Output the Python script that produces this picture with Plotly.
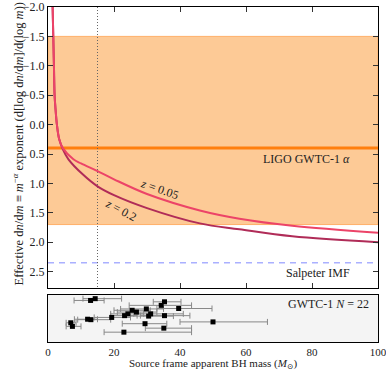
import plotly.graph_objects as go

# ---- data ----
mass_z005 = [1.4, 1.6, 1.8, 2.0, 2.3, 2.7, 3.4, 4.5, 7.7, 10, 15, 20, 30, 46, 58, 74, 100]
alpha_z005 = [-2.0, -1.5, -1.0, -0.5, -0.25, 0.0, 0.25, 0.4, 0.59, 0.66, 0.79, 0.93, 1.18, 1.46, 1.6, 1.72, 1.84]
mass_z02 = [1.4, 1.6, 1.8, 2.0, 2.3, 2.7, 3.4, 4.5, 6.2, 10.6, 15, 20, 30, 46, 58, 74, 100]
alpha_z02 = [-2.0, -1.5, -1.0, -0.5, -0.25, 0.0, 0.25, 0.42, 0.59, 0.85, 1.05, 1.2, 1.42, 1.68, 1.78, 1.9, 2.0]

ligo_alpha = 0.4
ligo_alpha_lo = -1.5
ligo_alpha_hi = 1.7
salpeter_alpha = 2.35
mass_cut = 15

bh_mass = [12.9, 14.3, 35.3, 34.3, 39.6, 25.5, 29.8, 26.8, 24.2, 23.2, 31.1, 30.5, 35.3, 19.3, 12.0, 13.0, 6.9, 7.4, 50.0, 29.4, 35.1, 23.0]
bh_lo = [7.9, 10.6, 31.9, 24.6, 33.0, 20.0, 22.0, 21.0, 19.0, 19.0, 26.0, 25.0, 28.0, 14.0, 8.0, 9.0, 5.5, 5.5, 40.0, 22.5, 29.5, 17.0]
bh_hi = [17.0, 22.3, 40.3, 43.5, 49.7, 31.0, 35.0, 33.0, 29.0, 27.0, 41.0, 38.0, 43.0, 25.0, 15.0, 19.0, 8.5, 10.0, 66.5, 36.0, 43.5, 43.5]
bh_row = [0.93, 0.97, 0.90, 0.82, 0.75, 0.71, 0.74, 0.67, 0.63, 0.59, 0.63, 0.58, 0.59, 0.55, 0.51, 0.50, 0.43, 0.35, 0.45, 0.41, 0.31, 0.22]

xticks = [0, 20, 40, 60, 80, 100]
yticks = [-2.0, -1.5, -1.0, -0.5, 0.0, 0.5, 1.0, 1.5, 2.0, 2.5]
ytext = [("\u2212%.1f" % abs(v)) if v < 0 else "%.1f" % v for v in yticks]

FONT = "Liberation Serif, DejaVu Serif, serif"
TXT = "#222222"
fig = go.Figure()

# main panel
fig.add_trace(go.Scatter(x=[0, 100], y=[ligo_alpha, ligo_alpha], mode="lines",
                         line=dict(color="#ff7f0e", width=3), xaxis="x", yaxis="y", showlegend=False))
fig.add_trace(go.Scatter(x=[0, 100], y=[salpeter_alpha, salpeter_alpha], mode="lines",
                         line=dict(color="#aab0ff", width=1.5, dash="6px,5px"), xaxis="x", yaxis="y", showlegend=False))
fig.add_trace(go.Scatter(x=[mass_cut, mass_cut], y=[-2.0, 2.78], mode="lines",
                         line=dict(color="#666666", width=1, dash="1px,2px"), xaxis="x", yaxis="y", showlegend=False))
fig.add_trace(go.Scatter(x=mass_z02, y=alpha_z02, mode="lines", line=dict(color="#b02c58", width=2, shape="spline"),
                         xaxis="x", yaxis="y", showlegend=False))
fig.add_trace(go.Scatter(x=mass_z005, y=alpha_z005, mode="lines", line=dict(color="#ec4468", width=2, shape="spline"),
                         xaxis="x", yaxis="y", showlegend=False))

# lower panel
fig.add_trace(go.Scatter(
    x=bh_mass, y=bh_row, mode="markers",
    marker=dict(symbol="square", size=5, color="black"),
    error_x=dict(type="data", symmetric=False,
                 array=[h - m for h, m in zip(bh_hi, bh_mass)],
                 arrayminus=[m - l for l, m in zip(bh_lo, bh_mass)],
                 color="#888888", thickness=1, width=3),
    xaxis="x2", yaxis="y2", showlegend=False))

axis_common = dict(showline=True, linecolor="black", linewidth=1, mirror="ticks", ticks="inside",
                   ticklen=5, tickcolor="#333333", showgrid=False, zeroline=False, automargin=False,
                   tickfont=dict(family=FONT, size=12, color=TXT))

fig.update_layout(
    width=386, height=371, margin=dict(l=48, r=8, t=7, b=29, autoexpand=False),
    plot_bgcolor="white", paper_bgcolor="white",
    font=dict(family=FONT, color=TXT),
    xaxis=dict(axis_common, domain=[0, 1], range=[0, 100.001], anchor="y", tickvals=xticks,
               showticklabels=False),
    yaxis=dict(axis_common, domain=[0.161, 1], range=[2.78, -2.0], anchor="x", tickvals=yticks, ticktext=ytext),
    xaxis2=dict(axis_common, domain=[0, 1], range=[0, 100.001], anchor="y2", tickvals=xticks,
                ticks="", mirror=True, ticklabeloverflow="allow", tickfont=dict(family=FONT, size=11, color=TXT)),
    yaxis2=dict(axis_common, domain=[0, 0.140], range=[0, 1.05], anchor="x2", showticklabels=False, ticks="",
                mirror=True),
    shapes=[
        dict(type="rect", xref="x2 domain", yref="y2 domain", x0=0, x1=1, y0=0, y1=1,
             fillcolor="#f4f4f4", line=dict(width=0), layer="below"),
        dict(type="rect", xref="x", yref="y", x0=0, x1=100, y0=ligo_alpha_lo, y1=ligo_alpha_hi,
             fillcolor="#fdca96", line=dict(color="#ffb068", width=1), layer="below"),
    ],
)

fig.add_annotation(x=33.7, y=1.09, xref="x", yref="y", text="<i>z</i> = 0.05", showarrow=False, textangle=19,
                   font=dict(family=FONT, size=12, color=TXT))
fig.add_annotation(x=22.0, y=1.46, xref="x", yref="y", text="<i>z</i> = 0.2", showarrow=False, textangle=28,
                   font=dict(family=FONT, size=12, color=TXT))
fig.add_annotation(x=92, y=0.585, xref="x", yref="y", text="LIGO GWTC-1 <i>\u03b1</i>", showarrow=False,
                   xanchor="right", font=dict(family=FONT, size=12, color=TXT))
fig.add_annotation(x=92, y=2.52, xref="x", yref="y", text="Salpeter IMF", showarrow=False,
                   xanchor="right", font=dict(family=FONT, size=12, color=TXT))
fig.add_annotation(x=97.8, y=0.85, xref="x2", yref="y2", text="GWTC-1 <i>N</i> = 22", showarrow=False,
                   xanchor="right", font=dict(family=FONT, size=12, color=TXT))
fig.add_annotation(x=0.5, y=-0.0896, xref="paper", yref="paper", yanchor="bottom", borderpad=0,
                   text="Source frame apparent BH mass (<i>M</i><sub>\u2299</sub>)", showarrow=False,
                   font=dict(family=FONT, size=11, color=TXT))
fig.add_annotation(x=-0.121, y=0.59, xref="paper", yref="paper", textangle=-90,
                   text="Effective d<i>n</i>/d<i>m</i> \u2261 <i>m</i><sup>\u2212<i>\u03b1</i></sup> exponent (d[log d<i>n</i>/d<i>m</i>]/d(log <i>m</i>))",
                   showarrow=False, font=dict(family=FONT, size=12.5, color=TXT))

fig.write_html("out.html")
